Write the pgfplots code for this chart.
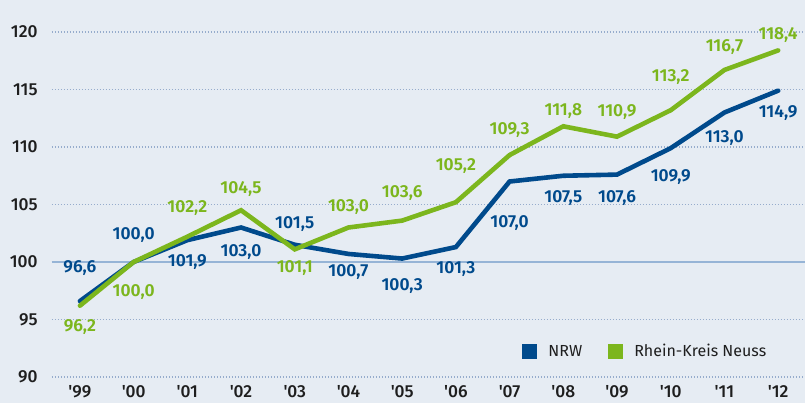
\documentclass[border=0pt]{standalone}
\usepackage{fontspec}
\setmainfont{Fira Sans}
\newfontfamily\medfont{Fira Sans Medium}
\newfontfamily\semifont{Fira Sans SemiBold}
\usepackage{pgfplots}
\pgfplotsset{compat=1.18}
\usepackage{pgfplotstable}
\definecolor{bg}{RGB}{230,236,243}
\definecolor{nrw}{RGB}{0,74,140}
\definecolor{rkn}{RGB}{124,182,29}
\definecolor{gridc}{RGB}{150,172,204}
\definecolor{hundred}{RGB}{150,180,214}
\definecolor{txt}{RGB}{30,30,30}

\pgfplotstableread{
x y dy
0 96.6 16.5
1 100.0 13.5
2 101.9 -11
3 103.0 -12.5
4 101.5 10.5
5 100.7 -9
6 100.3 -13.5
7 101.3 -11
8 107.0 -21
9 107.5 -11.25
10 107.6 -11.85
11 109.9 -14.25
12 113.0 -13
13 114.9 -11
}\nrwdata

\pgfplotstableread{
x y dy
0 96.2 -10.5
1 100.0 -15
2 102.2 14.5
3 104.5 10.5
4 101.1 -9.5
5 103.0 10
6 103.6 14
7 105.2 18
8 109.3 12.5
9 111.8 7.5
10 110.9 12.5
11 113.2 16.5
12 116.7 11.5
13 118.4 7.5
}\rkndata

\newcommand{\lblfont}{\fontsize{8.7}{10}\selectfont}

\begin{document}
\begin{tikzpicture}
\fill[bg] (0,0) rectangle (402.5pt,201.5pt);
\path[use as bounding box] (0,0) rectangle (402.5pt,201.5pt);
\begin{axis}[
  at={(26pt,13pt)}, anchor=south west,
  scale only axis, width=376.5pt, height=172.5pt,
  xmin=-0.52, xmax=13.5, ymin=90, ymax=120,
  clip=false,
  /pgf/number format/assume math mode=true,
  axis line style={draw=none},
  major tick length=0pt,
  xtick={0,...,13},
  xticklabels={'99,'00,'01,'02,'03,'04,'05,'06,'07,'08,'09,'10,'11,'12},
  ytick={90,95,...,120},
  ymajorgrids,
  grid style={gridc, line width=0.6pt, dash pattern=on 0.6pt off 0.9pt},
  yticklabel style={anchor=east, inner sep=0pt, xshift=-7pt, font=\lblfont\medfont, text=txt},
  xticklabel style={anchor=north, inner sep=0pt, yshift=-4pt, font=\lblfont\medfont, text=txt},
  legend style={at={(0.957,0.0725)}, anchor=east, draw=none, fill=none,
    legend columns=2, font=\fontsize{8.0}{10}\selectfont, text=txt,
    nodes={inner sep=0pt},
    column sep=5.5pt,
    /tikz/every even column/.append style={column sep=13pt}},
  legend image code/.code={\fill[#1, draw=none] (0pt,-3.75pt) rectangle (7.5pt,3.75pt);},
]
\draw[hundred, line width=0.8pt] ({rel axis cs:0,0}|-{axis cs:0,100}) -- ({rel axis cs:1,0}|-{axis cs:0,100});
\addplot[color=nrw, line width=2.3pt, line cap=round] table[x=x,y=y]{\nrwdata};
\addlegendentry{NRW}
\addplot[color=rkn, line width=2.3pt, line cap=round] table[x=x,y=y]{\rkndata};
\addlegendentry{Rhein-Kreis Neuss}
\addplot[draw=none, mark=none, forget plot, point meta=y,
  visualization depends on={\thisrow{dy}\as\dy},
  nodes near coords={\pgfmathprintnumber[use comma,fixed,fixed zerofill,precision=1,assume math mode=true]{\pgfplotspointmeta}},
  nodes near coords style={anchor=center, yshift=\dy pt, font=\lblfont\semifont, text=nrw, inner sep=0pt}]
  table[x=x,y=y]{\nrwdata};
\addplot[draw=none, mark=none, forget plot, point meta=y,
  visualization depends on={\thisrow{dy}\as\dy},
  nodes near coords={\pgfmathprintnumber[use comma,fixed,fixed zerofill,precision=1,assume math mode=true]{\pgfplotspointmeta}},
  nodes near coords style={anchor=center, yshift=\dy pt, font=\lblfont\semifont, text=rkn, inner sep=0pt}]
  table[x=x,y=y]{\rkndata};
\end{axis}
\end{tikzpicture}
\end{document}
